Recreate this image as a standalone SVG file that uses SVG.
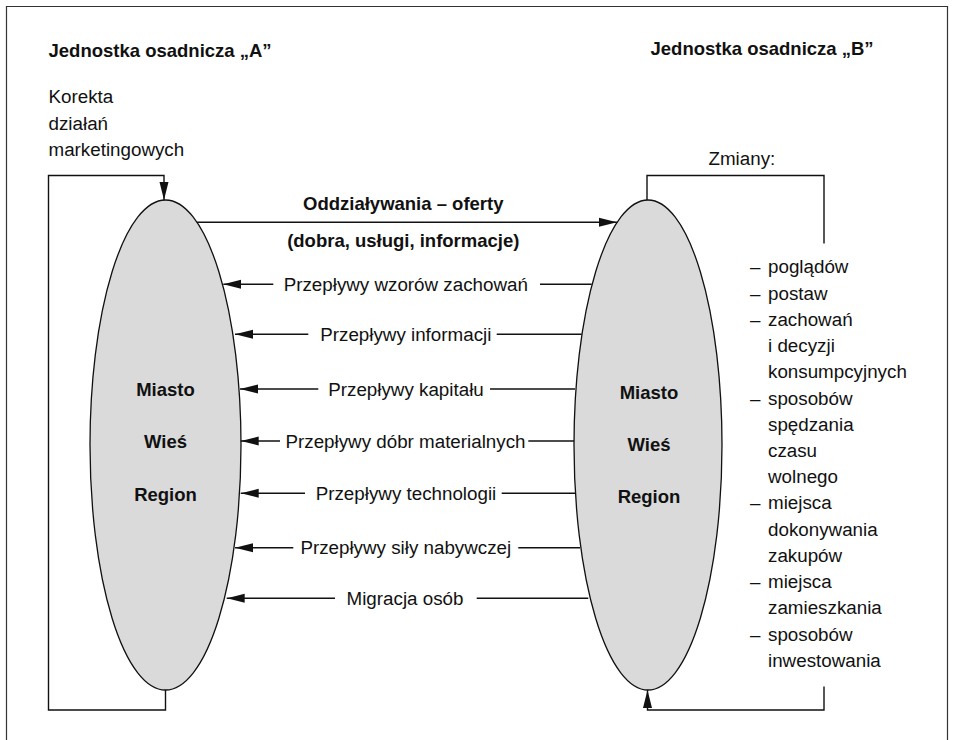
<svg xmlns="http://www.w3.org/2000/svg" width="953" height="740" viewBox="0 0 953 740">
<style>
  text { font-family: "Liberation Sans", Arial, sans-serif; fill: #111; }
  .t { font-size: 18.8px; }
  .b { font-size: 18.5px; font-weight: bold; }
  .c { text-anchor: middle; }
  .ell { fill: #dadada; stroke: #111; stroke-width: 1.3; }
  .ln { fill: none; stroke: #111; stroke-width: 1.4; }
  .frame { fill: none; stroke: #333; stroke-width: 1.2; }
</style>
<defs>
  <marker id="ah" markerUnits="userSpaceOnUse" markerWidth="18" markerHeight="10" refX="18" refY="5" orient="auto">
    <path d="M0,0.5 L18,5 L0,9.5 z" fill="#111"/>
  </marker>
</defs>
<rect width="953" height="740" fill="#fff"/>
<path class="frame" d="M6.5,740 V6.5 H947.5 V740"/>

<g id="title-a"><text class="b" x="48.5" y="56.5">Jednostka osadnicza „A”</text></g>
<g id="title-b"><text class="b" x="650.5" y="54.5">Jednostka osadnicza „B”</text></g>

<g id="korekta">
  <text class="t" x="48.5" y="103.3">Korekta</text>
  <text class="t" x="48.5" y="129.5">działań</text>
  <text class="t" x="48.5" y="155.5">marketingowych</text>
</g>

<g id="zmiany">
  <text class="t" x="708.5" y="165">Zmiany:</text>
  <text class="t" x="750" y="273.3">– <tspan x="768">poglądów</tspan></text>
  <text class="t" x="750" y="299.5">– <tspan x="768">postaw</tspan></text>
  <text class="t" x="750" y="325.8">– <tspan x="768">zachowań</tspan></text>
  <text class="t" x="768" y="352">i decyzji</text>
  <text class="t" x="768" y="378.2">konsumpcyjnych</text>
  <text class="t" x="750" y="404.5">– <tspan x="768">sposobów</tspan></text>
  <text class="t" x="768" y="430.7">spędzania</text>
  <text class="t" x="768" y="457">czasu</text>
  <text class="t" x="768" y="483.2">wolnego</text>
  <text class="t" x="750" y="509.4">– <tspan x="768">miejsca</tspan></text>
  <text class="t" x="768" y="535.7">dokonywania</text>
  <text class="t" x="768" y="561.9">zakupów</text>
  <text class="t" x="750" y="588.1">– <tspan x="768">miejsca</tspan></text>
  <text class="t" x="768" y="614.4">zamieszkania</text>
  <text class="t" x="750" y="640.6">– <tspan x="768">sposobów</tspan></text>
  <text class="t" x="768" y="666.9">inwestowania</text>
</g>

<g id="node-a">
  <ellipse class="ell" cx="165.5" cy="445" rx="75.5" ry="245"/>
  <text class="b c" x="165.5" y="396">Miasto</text>
  <text class="b c" x="165.5" y="448">Wieś</text>
  <text class="b c" x="165.5" y="500.5">Region</text>
</g>

<g id="node-b">
  <ellipse class="ell" cx="648" cy="445" rx="74" ry="245"/>
  <text class="b c" x="649" y="398.5">Miasto</text>
  <text class="b c" x="649" y="450.7">Wieś</text>
  <text class="b c" x="649" y="503">Region</text>
</g>

<g id="connectors">
  <path class="ln" d="M165.5,690 V710 H48.5 V175.5 H164 V200" marker-end="url(#ah)"/>
  <path class="ln" d="M647,200 V175.5 H824 V243.5"/>
  <path class="ln" d="M824,686.5 V710 H647.5 V690" marker-end="url(#ah)"/>
  <line class="ln" x1="197" y1="222.3" x2="617" y2="222.3" marker-end="url(#ah)"/>

  <line class="ln" x1="591.7" y1="284.3" x2="540" y2="284.3"/>
  <line class="ln" x1="273.3" y1="284.3" x2="223.3" y2="284.3" marker-end="url(#ah)"/>
  <line class="ln" x1="581.7" y1="334.3" x2="496.7" y2="334.3"/>
  <line class="ln" x1="308.3" y1="334.3" x2="235" y2="334.3" marker-end="url(#ah)"/>
  <line class="ln" x1="575" y1="389" x2="490" y2="389"/>
  <line class="ln" x1="318.3" y1="389" x2="240" y2="389" marker-end="url(#ah)"/>
  <line class="ln" x1="574" y1="441" x2="528.3" y2="441"/>
  <line class="ln" x1="280" y1="441" x2="240.7" y2="441" marker-end="url(#ah)"/>
  <line class="ln" x1="575" y1="493.3" x2="501.7" y2="493.3"/>
  <line class="ln" x1="305" y1="493.3" x2="240.7" y2="493.3" marker-end="url(#ah)"/>
  <line class="ln" x1="580" y1="547.7" x2="518.3" y2="547.7"/>
  <line class="ln" x1="293.3" y1="547.7" x2="235" y2="547.7" marker-end="url(#ah)"/>
  <line class="ln" x1="588.3" y1="598.3" x2="476.7" y2="598.3"/>
  <line class="ln" x1="335" y1="598.3" x2="226.7" y2="598.3" marker-end="url(#ah)"/>
</g>

<g id="labels">
  <text class="b c" x="403.3" y="210">Oddziaływania – oferty</text>
  <text class="b c" x="403.3" y="246.5">(dobra, usługi, informacje)</text>
  <text class="t c" x="405.8" y="290.8">Przepływy wzorów zachowań</text>
  <text class="t c" x="405.8" y="340.8">Przepływy informacji</text>
  <text class="t c" x="406" y="395.5">Przepływy kapitału</text>
  <text class="t c" x="405.5" y="447.5">Przepływy dóbr materialnych</text>
  <text class="t c" x="406" y="499.8">Przepływy technologii</text>
  <text class="t c" x="405.8" y="554.2">Przepływy siły nabywczej</text>
  <text class="t c" x="405" y="604.8">Migracja osób</text>
</g>
</svg>
